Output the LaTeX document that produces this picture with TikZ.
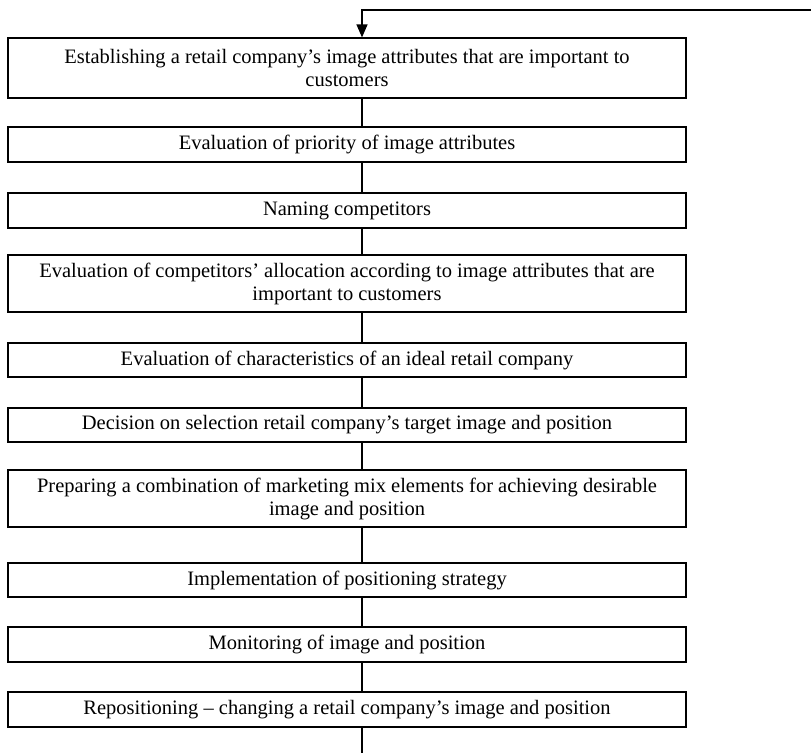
\documentclass[tikz,border=0pt]{standalone}
\usepackage{fontspec}
\setmainfont{Liberation Serif}
\usetikzlibrary{arrows.meta}
\begin{document}
\begin{tikzpicture}[x=1pt,y=-1pt,
  stepbox/.style={draw, line width=1.2pt, minimum width=678pt, align=center, inner sep=0pt,
     font=\fontsize{20.5}{23}\selectfont},
  conn/.style={line width=1.2pt}]
\useasboundingbox (0,0) rectangle (811,753);
\node[stepbox, minimum height=60pt] (b1) at (347,68) {Establishing a retail company’s image attributes that are important to\\customers};
\node[stepbox, minimum height=35pt] (b2) at (347,144.5) {Evaluation of priority of image attributes};
\node[stepbox, minimum height=35pt] (b3) at (347,210.5) {Naming competitors};
\node[stepbox, minimum height=57pt] (b4) at (347,283.5) {Evaluation of competitors’ allocation according to image attributes that are\\important to customers};
\node[stepbox, minimum height=34pt] (b5) at (347,360) {Evaluation of characteristics of an ideal retail company};
\node[stepbox, minimum height=34pt] (b6) at (347,425) {Decision on selection retail company’s target image and position};
\node[stepbox, minimum height=57pt] (b7) at (347,498.5) {Preparing a combination of marketing mix elements for achieving desirable\\image and position};
\node[stepbox, minimum height=34pt] (b8) at (347,580) {Implementation of positioning strategy};
\node[stepbox, minimum height=35pt] (b9) at (347,644.5) {Monitoring of image and position};
\node[stepbox, minimum height=35pt] (b10) at (347,709.5) {Repositioning – changing a retail company’s image and position};
\coordinate (tr) at (811,10);
\coordinate (tl) at (362,10);
\coordinate (bot) at (362,753);
\foreach \a/\b in {b1/b2,b2/b3,b3/b4,b4/b5,b5/b6,b6/b7,b7/b8,b8/b9,b9/b10}{
  \draw[conn] (\a.south -| tl) -- (\b.north -| tl);
}
\draw[conn] (b10.south -| tl) -- (bot);
\draw[conn, -{Stealth[length=13pt,width=11pt,inset=0pt]}] (tr) -- (tl) -- (b1.north -| tl);
\end{tikzpicture}
\end{document}
